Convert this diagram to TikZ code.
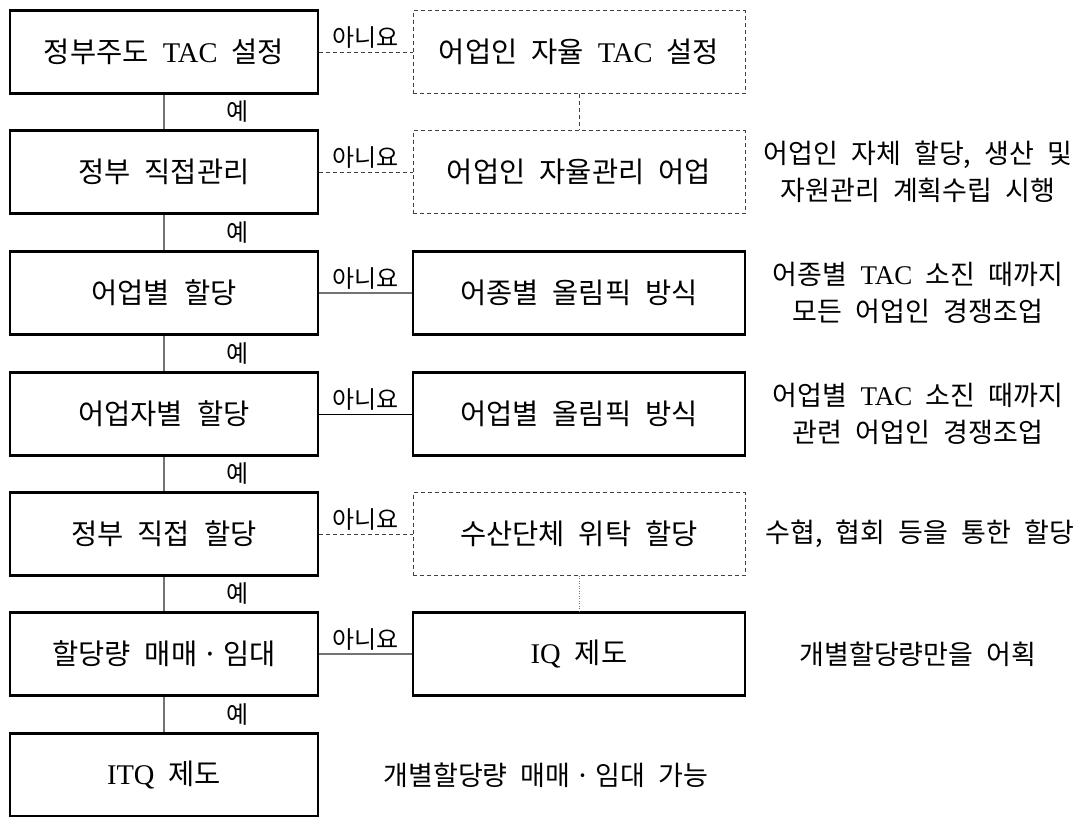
\documentclass[tikz,border=0pt]{standalone}
\usepackage{fontspec}
\setmainfont[WordSpace=2.2]{Noto Sans CJK KR}
\newfontfamily\latf{Liberation Serif}
\newcommand{\boxfont}{\fontsize{28.5}{32}\selectfont}
\newcommand{\notefont}{\fontsize{27}{37}\selectfont}
\newcommand{\lblfont}{\fontsize{24}{28}\selectfont}
\newcommand{\mdot}{\hspace{5pt}·\hspace{5pt}}
\begin{document}
\begin{tikzpicture}[x=1pt,y=-1pt,
  mainbox/.style={draw, line width=2.6pt, minimum width=308pt, minimum height=83pt, inner sep=0pt, font=\boxfont},
  sbox/.style={mainbox, minimum width=332pt},
  dbox/.style={draw=black!75, dash pattern=on 4pt off 3pt, line width=0.9pt, minimum width=332pt, minimum height=83pt, inner sep=0pt, font=\boxfont},
  note/.style={align=center, font=\notefont, inner sep=0pt},
  vline/.style={draw=black!55, line width=1.2pt},
  hgray/.style={draw=black!55, line width=1.2pt},
  hblack/.style={draw=black, line width=1pt},
  hdash/.style={draw=black!75, line width=1pt, dash pattern=on 4pt off 3pt},
  vdot/.style={draw=black!55, line width=1pt, dash pattern=on 1pt off 1.5pt},
  yes/.style={font=\lblfont, xshift=74pt, inner sep=0pt},
  no/.style={font=\lblfont, above, yshift=3pt, inner sep=0pt}
]
\useasboundingbox (0,0) rectangle (1088,817);

% left column
\node[mainbox] (l1) at (164,52) {정부주도 {\latf TAC} 설정};
\node[mainbox] (l2) at (164,172) {정부 직접관리};
\node[mainbox] (l3) at (164,293) {어업별 할당};
\node[mainbox] (l4) at (164,414) {어업자별 할당};
\node[mainbox] (l5) at (164,534) {정부 직접 할당};
\node[mainbox] (l6) at (164,654) {할당량 매매\mdot 임대};
\node[mainbox] (l7) at (164,775) {{\latf ITQ} 제도};

% right column
\node[dbox] (r1) at (579,52) {어업인 자율 {\latf TAC} 설정};
\node[dbox] (r2) at (579,172) {어업인 자율관리 어업};
\node[sbox] (r3) at (579,293) {어종별 올림픽 방식};
\node[sbox] (r4) at (579,414) {어업별 올림픽 방식};
\node[dbox] (r5) at (579,534) {수산단체 위탁 할당};
\node[sbox] (r6) at (579,654) {{\latf IQ} 제도};

% notes
\node[note] (n2) at (918,172) {어업인 자체 할당, 생산 및\\자원관리 계획수립 시행};
\node[note] (n3) at (918,293) {어종별 {\latf TAC} 소진 때까지\\모든 어업인 경쟁조업};
\node[note] (n4) at (918,414) {어업별 {\latf TAC} 소진 때까지\\관련 어업인 경쟁조업};
\node[note] (n5) at (920,534) {수협, 협회 등을 통한 할당};
\node[note] (n6) at (918,654) {개별할당량만을 어획};
\node[note] (n7) at (546,775) {개별할당량 매매\mdot 임대 가능};

% vertical yes connectors
\draw[vline] (l1.south) -- (l2.north) node[midway, yes] {예};
\draw[vline] (l2.south) -- (l3.north) node[midway, yes] {예};
\draw[vline] (l3.south) -- (l4.north) node[midway, yes] {예};
\draw[vline] (l4.south) -- (l5.north) node[midway, yes] {예};
\draw[vline] (l5.south) -- (l6.north) node[midway, yes] {예};
\draw[vline] (l6.south) -- (l7.north) node[midway, yes] {예};

% horizontal no connectors
\draw[hdash] (l1.east) -- (r1.west) node[midway, no] {아니요};
\draw[hdash] (l2.east) -- (r2.west) node[midway, no] {아니요};
\draw[hgray] (l3.east) -- (r3.west) node[midway, no] {아니요};
\draw[hblack] (l4.east) -- (r4.west) node[midway, no] {아니요};
\draw[hdash] (l5.east) -- (r5.west) node[midway, no] {아니요};
\draw[hgray] (l6.east) -- (r6.west) node[midway, no] {아니요};

% right column links
\draw[hdash] (r1.south) -- (r2.north);
\draw[vdot] (r5.south) -- (r6.north);
\end{tikzpicture}
\end{document}
